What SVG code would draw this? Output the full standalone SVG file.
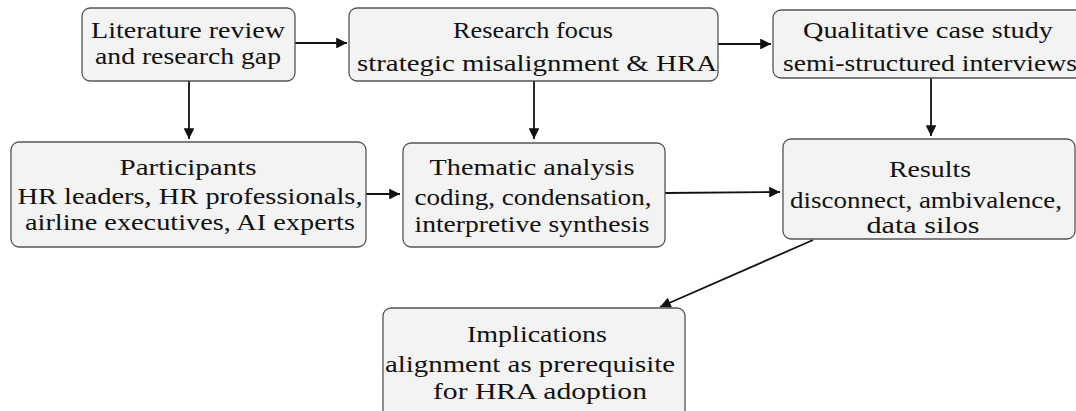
<svg xmlns="http://www.w3.org/2000/svg" width="1076" height="411" viewBox="0 0 1076 411">
<style>
.box{fill:#f3f3f3;stroke:#555;stroke-width:1.3}
.t{font-family:"Liberation Serif","Times New Roman",serif;font-size:22.5px;fill:#111;text-anchor:middle}
.c{stroke:#111;stroke-width:1.8;fill:none}
</style>
<defs>
<marker id="ah" viewBox="0 0 10 10" refX="10" refY="5" markerWidth="6.5" markerHeight="6" markerUnits="strokeWidth" orient="auto">
<path d="M0,0 L10,5 L0,10 z" fill="#111"/>
</marker>
</defs>
<rect width="1076" height="411" fill="#fff"/>
<g id="connectors">
<line class="c" x1="295" y1="43" x2="347" y2="43" marker-end="url(#ah)"/>
<line class="c" x1="718" y1="44" x2="771" y2="44" marker-end="url(#ah)"/>
<line class="c" x1="189" y1="81" x2="189" y2="139" marker-end="url(#ah)"/>
<line class="c" x1="534" y1="81" x2="534" y2="139" marker-end="url(#ah)"/>
<line class="c" x1="931" y1="78" x2="931" y2="136" marker-end="url(#ah)"/>
<line class="c" x1="366" y1="194" x2="400" y2="194" marker-end="url(#ah)"/>
<line class="c" x1="665" y1="193" x2="780" y2="192" marker-end="url(#ah)"/>
<line class="c" x1="813" y1="240" x2="660" y2="307" marker-end="url(#ah)"/>
</g>
<g id="literature">
<rect class="box" x="82" y="8" width="213" height="73" rx="8"/>
<text class="t" x="188" y="38" textLength="194" lengthAdjust="spacingAndGlyphs">Literature review</text>
<text class="t" x="188" y="64" textLength="186" lengthAdjust="spacingAndGlyphs">and research gap</text>
</g>
<g id="focus">
<rect class="box" x="349" y="8" width="369" height="73" rx="8"/>
<text class="t" x="533" y="38" textLength="160" lengthAdjust="spacingAndGlyphs">Research focus</text>
<text class="t" x="537" y="71" textLength="360" lengthAdjust="spacingAndGlyphs">strategic misalignment &amp; HRA</text>
</g>
<g id="casestudy">
<rect class="box" x="773" y="10" width="320" height="68" rx="8"/>
<text class="t" x="928" y="38" textLength="250" lengthAdjust="spacingAndGlyphs">Qualitative case study</text>
<text class="t" x="930" y="71" textLength="294" lengthAdjust="spacingAndGlyphs">semi-structured interviews</text>
</g>
<g id="participants">
<rect class="box" x="11" y="142" width="355" height="105" rx="8"/>
<text class="t" x="188" y="175" textLength="137" lengthAdjust="spacingAndGlyphs">Participants</text>
<text class="t" x="190" y="204" textLength="345" lengthAdjust="spacingAndGlyphs">HR leaders, HR professionals,</text>
<text class="t" x="190" y="230" textLength="330" lengthAdjust="spacingAndGlyphs">airline executives, AI experts</text>
</g>
<g id="thematic">
<rect class="box" x="403" y="143" width="262" height="104" rx="8"/>
<text class="t" x="532" y="175" textLength="205" lengthAdjust="spacingAndGlyphs">Thematic analysis</text>
<text class="t" x="533" y="205" textLength="237" lengthAdjust="spacingAndGlyphs">coding, condensation,</text>
<text class="t" x="532" y="232" textLength="235" lengthAdjust="spacingAndGlyphs">interpretive synthesis</text>
</g>
<g id="results">
<rect class="box" x="783" y="139" width="292" height="100" rx="8"/>
<text class="t" x="930" y="177" textLength="82" lengthAdjust="spacingAndGlyphs">Results</text>
<text class="t" x="926" y="208" textLength="272" lengthAdjust="spacingAndGlyphs">disconnect, ambivalence,</text>
<text class="t" x="923" y="233" textLength="113" lengthAdjust="spacingAndGlyphs">data silos</text>
</g>
<g id="implications">
<rect class="box" x="383" y="308" width="302" height="115" rx="8"/>
<text class="t" x="537" y="342" textLength="140" lengthAdjust="spacingAndGlyphs">Implications</text>
<text class="t" x="530" y="372" textLength="290" lengthAdjust="spacingAndGlyphs">alignment as prerequisite</text>
<text class="t" x="540" y="399" textLength="214" lengthAdjust="spacingAndGlyphs">for HRA adoption</text>
</g>
</svg>
